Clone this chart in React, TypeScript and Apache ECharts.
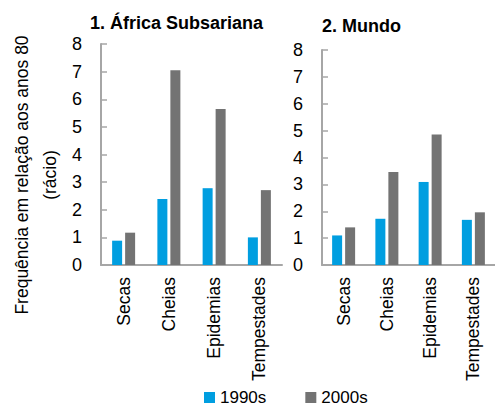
import React, { useEffect, useRef } from "react";
import * as echarts from "echarts";

const categories = ["Secas", "Cheias", "Epidemias", "Tempestades"];
const seriesNames = ["1990s", "2000s"];
const africa1990 = [0.88, 2.39, 2.78, 1.0];
const africa2000 = [1.17, 7.05, 5.65, 2.71];
const world1990 = [1.1, 1.72, 3.09, 1.68];
const world2000 = [1.4, 3.46, 4.86, 1.96];
const titles = ["1. África Subsariana", "2. Mundo"];
const yAxisName = "Frequência em relação aos anos 80\n(rácio)";

const FONT = "'Liberation Sans', Arial, sans-serif";
const BLUE = "#009ee0";
const GRAY = "#737373";
const AXIS = "#a6a6a6";

export default function App() {
  const ref = useRef<HTMLDivElement>(null);
  useEffect(() => {
    if (!ref.current) return;
    const chart = echarts.init(ref.current, undefined, { renderer: "svg" });
    const yAxisBase = (gridIndex: number) => ({
      type: "value",
      gridIndex,
      min: 0,
      max: 8,
      interval: 1,
      splitLine: { show: false },
      axisLine: { show: true, lineStyle: { color: AXIS, width: 2 } },
      axisTick: { show: true, inside: true, length: 6, lineStyle: { color: AXIS, width: 1.5 } },
      axisLabel: { color: "#000", fontSize: 18, fontFamily: FONT, margin: 19 },
    });
    const xAxisBase = (gridIndex: number) => ({
      type: "category",
      gridIndex,
      data: categories,
      axisLine: { show: true, lineStyle: { color: AXIS, width: 2 } },
      axisTick: { show: false },
      axisLabel: {
        interval: 0,
        rotate: 90,
        color: "#000",
        fontSize: 17.5,
        fontFamily: FONT,
        margin: 12,
      },
    });
    const barBase = {
      type: "bar",
      barWidth: 10,
      barGap: "30%",
    };
    chart.setOption({
      animation: false,
      backgroundColor: "#fff",
      textStyle: { fontFamily: FONT },
      grid: [
        { left: 101, top: 44, width: 181, height: 221 },
        { left: 322, top: 50, width: 184, height: 215 },
      ],
      xAxis: [xAxisBase(0), xAxisBase(1)],
      yAxis: [yAxisBase(0), yAxisBase(1)],
      legend: {
        data: seriesNames,
        left: 204,
        top: 389,
        padding: 0,
        itemWidth: 11,
        itemHeight: 11,
        itemGap: 39,
        icon: "rect",
        textStyle: { color: "#000", fontSize: 17, lineHeight: 15, fontFamily: FONT },
      },
      series: [
        { ...barBase, name: seriesNames[0], xAxisIndex: 0, yAxisIndex: 0, data: africa1990, itemStyle: { color: BLUE } },
        { ...barBase, name: seriesNames[1], xAxisIndex: 0, yAxisIndex: 0, data: africa2000, itemStyle: { color: GRAY } },
        { ...barBase, name: seriesNames[0], xAxisIndex: 1, yAxisIndex: 1, data: world1990, itemStyle: { color: BLUE } },
        { ...barBase, name: seriesNames[1], xAxisIndex: 1, yAxisIndex: 1, data: world2000, itemStyle: { color: GRAY } },
      ],
      graphic: [
        {
          type: "text",
          x: 90,
          y: 22.5,
          style: {
            text: titles[0],
            fill: "#000",
            font: `bold 18px ${FONT}`,
            textAlign: "left",
            textVerticalAlign: "middle",
          },
        },
        {
          type: "text",
          x: 322,
          y: 25.5,
          style: {
            text: titles[1],
            fill: "#000",
            font: `bold 18px ${FONT}`,
            textAlign: "left",
            textVerticalAlign: "middle",
          },
        },
        {
          type: "text",
          x: 35.7,
          y: 175,
          rotation: Math.PI / 2,
          style: {
            text: yAxisName,
            fill: "#000",
            font: `17.5px ${FONT}`,
            lineHeight: 28,
            textAlign: "center",
            textVerticalAlign: "middle",
          },
        },
      ],
    });
    return () => chart.dispose();
  }, []);
  return (
    <div
      ref={ref}
      style={{ position: "fixed", left: 0, top: 0, width: 495, height: 408, background: "#fff" }}
    />
  );
}
